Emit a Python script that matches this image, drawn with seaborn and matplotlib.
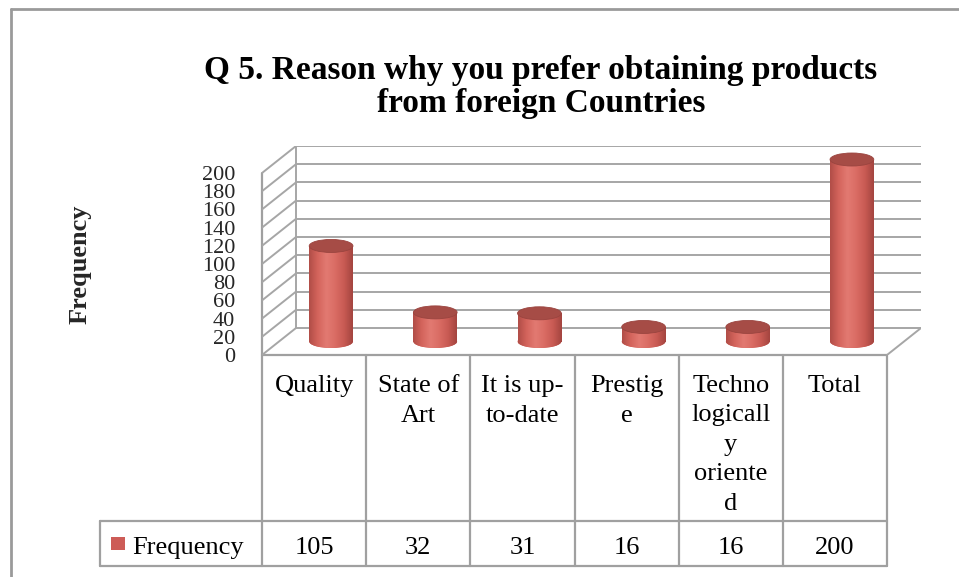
import numpy as np
import pandas as pd
import matplotlib
matplotlib.use("Agg")
import matplotlib.pyplot as plt
import seaborn as sns
from matplotlib.patches import Ellipse, Rectangle
from matplotlib.colors import LinearSegmentedColormap

# ---------------- data ----------------
categories = ["Quality", "State of\nArt", "It is up-\nto-date", "Prestig\ne",
              "Techno\nlogicall\ny\noriente\nd", "Total"]
frequency = [105, 32, 31, 16, 16, 200]
y_ticks = [0, 20, 40, 60, 80, 100, 120, 140, 160, 180, 200]
series_name = "Frequency"
title_lines = ["Q 5. Reason why you prefer obtaining products",
               "from foreign Countries"]
y_label = "Frequency"

# ---------------- style ----------------
sns.set_theme(style="white")
plt.rcParams['font.family'] = ['Liberation Serif', 'DejaVu Serif']

W, H = 959, 577
GRID = "#A6A6A6"
BAR = "#D2625B"
TOP = "#A64C46"
cmap = LinearSegmentedColormap.from_list(
    "cyl", ["#B04D47", "#D4645C", "#E27A72", "#DA6C64", "#C85A53", "#A3443F"])

fig = plt.figure(figsize=(W / 100, H / 100), dpi=100, facecolor="white")

# geometry (pixels) of the pseudo-3D plot area
FRONT_LEFT, FRONT_RIGHT = 262, 887
FRONT_ZERO, FRONT_MAX = 355, 173
DX_PX, DY_PX = 34, 27
CAT_PX = (FRONT_RIGHT - FRONT_LEFT) / len(categories)
VAL_PX = (FRONT_ZERO - FRONT_MAX) / max(y_ticks)
h = DX_PX / CAT_PX / 2
k = DY_PX / VAL_PX / 2
x0, x1 = -0.5 - h, len(categories) - 0.5 + h
y0, y1 = -k, max(y_ticks) + k
left_px = FRONT_LEFT
right_px = left_px + (x1 - x0) * CAT_PX
bottom_px = FRONT_ZERO
top_px = bottom_px - (y1 - y0) * VAL_PX

# overlay axes in pixel coords (table, title, border)
ov = fig.add_axes([0, 0, 1, 1], zorder=0)
ov.set_xlim(0, W)
ov.set_ylim(H, 0)
ov.axis("off")

ax = fig.add_axes([left_px / W, 1 - bottom_px / H,
                   (right_px - left_px) / W, (bottom_px - top_px) / H], zorder=1)
ax.set_facecolor("none")

df = pd.DataFrame({"category": categories, "frequency": frequency})
sns.barplot(data=df, x="category", y="frequency", ax=ax, color=BAR,
            width=0.42, saturation=1, zorder=3, linewidth=0)

# 3D-looking walls & gridlines
ymax = max(y_ticks)
for v in y_ticks:
    ax.plot([-0.5 + h, len(categories) - 0.5 + h], [v + k, v + k],
            color=GRID, lw=1.4, zorder=1, solid_capstyle="butt")
    ax.plot([-0.5 - h, -0.5 + h], [v - k, v + k], color=GRID, lw=1.4, zorder=1)
ax.plot([-0.5 + h, -0.5 + h], [k, ymax + k], color=GRID, lw=1.4, zorder=1)
ax.plot([len(categories) - 0.5 - h, len(categories) - 0.5 + h], [-k, k],
        color=GRID, lw=1.4, zorder=1)

# cylinders: gradient body, bottom and top ellipses
EH = 13 / VAL_PX
grad = np.linspace(0, 1, 256).reshape(1, -1)
bars = list(ax.patches)
for p in bars:
    bx, bw, bh = p.get_x(), p.get_width(), p.get_height()
    cx = bx + bw / 2
    im = ax.imshow(grad, extent=[bx, bx + bw, 0, bh], aspect="auto", cmap=cmap,
                   zorder=3.1, interpolation="bicubic")
    im.set_clip_path(p)
    be = Ellipse((cx, 0), bw, EH, facecolor=BAR, edgecolor="none", zorder=2.9)
    ax.add_patch(be)
    im2 = ax.imshow(grad, extent=[bx, bx + bw, -EH / 2, EH / 2], aspect="auto",
                    cmap=cmap, zorder=2.95, interpolation="bicubic")
    im2.set_clip_path(be)
    te = Ellipse((cx, bh), bw, EH, facecolor=TOP, edgecolor="#9A443F",
                 lw=0.6, zorder=4)
    ax.add_patch(te)

ax.set_xlim(x0, x1)
ax.set_ylim(y0, y1)
ax.set_xticks([])
ax.set_xlabel("")
ax.set_yticks([v - k for v in y_ticks])
ax.set_yticklabels([str(v) for v in y_ticks], fontsize=16)
ax.tick_params(axis="y", length=0, pad=(FRONT_LEFT - 235) * 0.72)
ax.set_ylabel(y_label, fontsize=19, fontweight="bold", va="center")
ax.yaxis.set_label_coords((80 - left_px) / (right_px - left_px),
                          (bottom_px - 264) / (bottom_px - top_px))
for s in ax.spines.values():
    s.set_visible(False)

# ---------------- data table ----------------
LC = "#A0A0A0"
LW = 1.6
bounds = [FRONT_LEFT + i * CAT_PX for i in range(len(categories) + 1)]
ROW1, ROW2, ROW3 = FRONT_ZERO, 521, 566
TABLE_LEFT = 100
ov.plot([bounds[0], bounds[-1]], [ROW1, ROW1], color=LC, lw=LW)
ov.plot([TABLE_LEFT, bounds[-1]], [ROW2, ROW2], color=LC, lw=LW)
ov.plot([TABLE_LEFT, bounds[-1]], [ROW3, ROW3], color=LC, lw=LW)
ov.plot([TABLE_LEFT, TABLE_LEFT], [ROW2, ROW3], color=LC, lw=LW)
ov.plot([bounds[0], bounds[0]], [FRONT_MAX, ROW3], color=LC, lw=LW)
for b in bounds[1:]:
    ov.plot([b, b], [ROW1, ROW3], color=LC, lw=LW)

for i, (lab, val) in enumerate(zip(categories, frequency)):
    cxp = (bounds[i] + bounds[i + 1]) / 2
    for j, line in enumerate(lab.split("\n")):
        ov.text(cxp, 392 + j * 29.5, line, ha="center", va="baseline",
                fontsize=19, color="black")
    ov.text(cxp, 554, str(val), ha="center", va="baseline", fontsize=19,
            color="black")

ov.add_patch(Rectangle((111, 537), 14, 13, facecolor="#CD5C57", edgecolor="none"))
ov.text(132, 554, series_name, ha="left", va="baseline", fontsize=19, color="black")

# ---------------- title & border ----------------
ov.text(541, 79, title_lines[0], ha="center", va="baseline", fontsize=24,
        fontweight="bold", color="black")
ov.text(541, 112, title_lines[1], ha="center", va="baseline", fontsize=24,
        fontweight="bold", color="black")
ov.plot([11, W], [9, 9], color="#9A9A9A", lw=2)
ov.plot([11, 11], [9, H], color="#9A9A9A", lw=2)

fig.savefig("out.png", dpi=100, facecolor="white")
